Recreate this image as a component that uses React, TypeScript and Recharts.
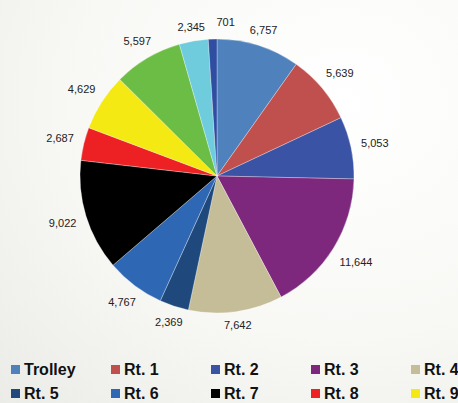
import { PieChart, Pie, Cell } from 'recharts'

const ROUTES = ['Trolley', 'Rt. 1', 'Rt. 2', 'Rt. 3', 'Rt. 4', 'Rt. 5', 'Rt. 6', 'Rt. 7', 'Rt. 8', 'Rt. 9', 'Rt. 10', 'Rt. 11', 'Rt. 12']
const RIDERS = [6757, 5639, 5053, 11644, 7642, 2369, 4767, 9022, 2687, 4629, 5597, 2345, 701]
const COLORS = [
  '#4F81BD', '#C0504D', '#3A53A4', '#7D277D', '#C4BD97', '#1F497D', '#2E67B4',
  '#000000', '#ED2024', '#F5E914', '#6CBD45', '#6ECCDD', '#2F4EA2',
]
// the legend in the source only has room for the first two rows
const LEGEND_COUNT = 10

const FONT = '"Liberation Sans", Arial, sans-serif'
const RAD = Math.PI / 180

const data = ROUTES.map((name, i) => ({ name, value: RIDERS[i] }))

// boxes of labels already drawn in this render, to nudge crowded ones apart
let placed: { x0: number; x1: number; y0: number; y1: number }[] = []

function SliceLabel(props: any) {
  const { cx, cy, midAngle, outerRadius, value, index } = props
  if (index === 0) placed = []
  const text = Number(value).toLocaleString('en-US')
  const dx = Math.cos(-midAngle * RAD)
  const dy = Math.sin(-midAngle * RAD)
  const w = text.length * 5.6
  const gap = 5.5 + 4 * Math.abs(dx)
  const r = outerRadius + gap + Math.abs(dx) * (w / 2) + Math.abs(dy) * 6
  let x = cx + r * dx
  let y = cy + r * dy
  const prev = placed[placed.length - 1]
  if (prev && x - w / 2 < prev.x1 + 6 && x + w / 2 > prev.x0 && y - 6 < prev.y1 && y + 6 > prev.y0) {
    x = prev.x1 + 12 + w / 2
    y -= 5
  }
  placed.push({ x0: x - w / 2, x1: x + w / 2, y0: y - 6, y1: y + 6 })
  return (
    <text
      x={x}
      y={y}
      textAnchor="middle"
      dominantBaseline="central"
      fill="#222"
      fontSize={11}
      fontFamily={FONT}
    >
      {text}
    </text>
  )
}

export default function App() {
  return (
    <div
      style={{
        position: 'absolute',
        left: 0,
        top: 0,
        width: 458,
        height: 403,
        overflow: 'hidden',
        background: 'radial-gradient(ellipse at 75% 25%, #ffffff 0%, #f8f8f5 55%, #ebebe7 100%)',
      }}
    >
      <PieChart
        width={458}
        height={403}
        margin={{ top: 0, right: 0, bottom: 0, left: 0 }}
        style={{ position: 'absolute', left: 0, top: 0 }}
      >
        <Pie
          data={data}
          dataKey="value"
          nameKey="name"
          cx={217}
          cy={176}
          outerRadius={137}
          startAngle={90}
          endAngle={-270}
          stroke="rgba(255,255,255,0.5)"
          strokeWidth={0.6}
          label={SliceLabel}
          labelLine={false}
          isAnimationActive={false}
        >
          {data.map((d, i) => (
            <Cell key={d.name} fill={COLORS[i]} />
          ))}
        </Pie>
      </PieChart>
      <div
        style={{
          position: 'absolute',
          left: 11,
          top: 361.5,
          width: 500,
          display: 'grid',
          gridTemplateColumns: 'repeat(5, 100px)',
          rowGap: 8.3,
          fontFamily: FONT,
          fontWeight: 'bold',
          fontSize: 16,
          lineHeight: '16px',
          color: '#111',
        }}
      >
        {data.slice(0, LEGEND_COUNT).map((d, i) => (
          <div key={d.name} style={{ display: 'flex', alignItems: 'center', height: 16, whiteSpace: 'nowrap' }}>
            <span style={{ width: 9, height: 9, background: COLORS[i], marginRight: 4, display: 'inline-block' }} />
            {d.name}
          </div>
        ))}
      </div>
    </div>
  )
}
